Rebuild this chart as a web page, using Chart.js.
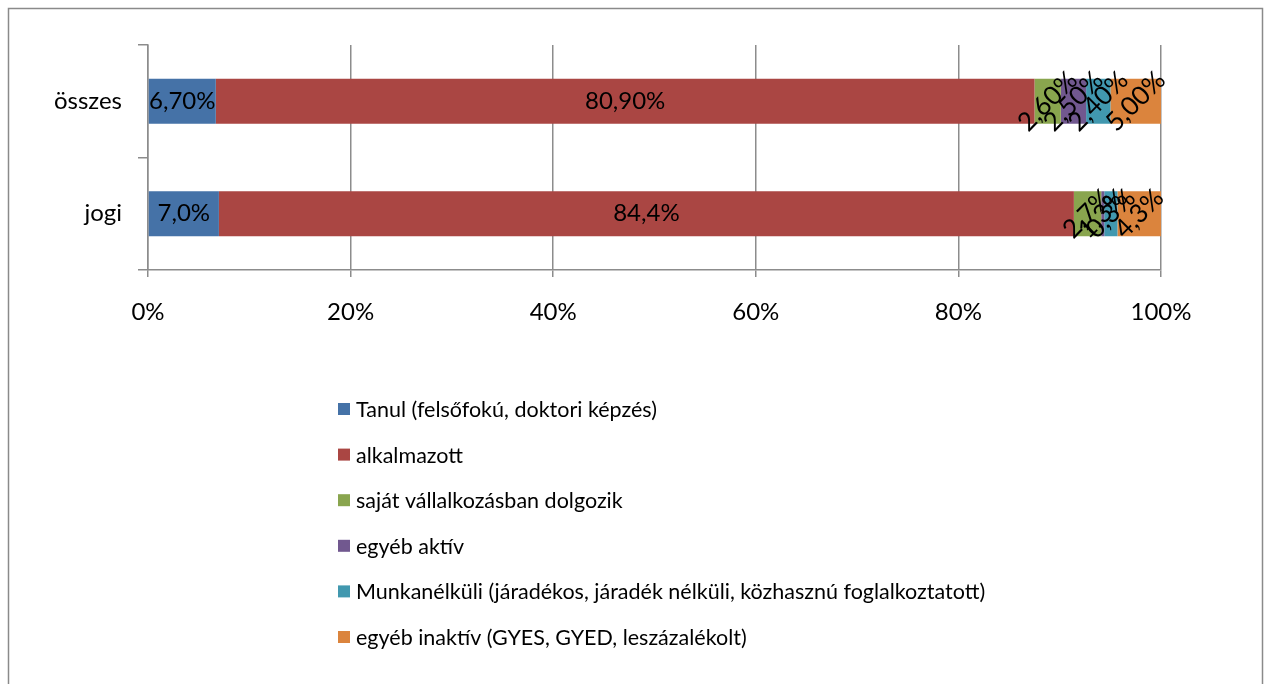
<!DOCTYPE html>
<html>
<head>
<meta charset="utf-8">
<script src="https://cdn.jsdelivr.net/npm/chart.js@4"></script>
<style>
  html, body { margin: 0; padding: 0; background: #fff; }
  #wrap { width: 1265px; height: 684px; }
</style>
</head>
<body>
<div id="wrap"><canvas id="chart" width="1265" height="684"></canvas></div>
<script>
  'use strict';

  // Categories (top to bottom).
  var categories = ['összes', 'jogi'];

  // Series names (legend order).
  var seriesNames = [
    'Tanul (felsőfokú, doktori képzés)',
    'alkalmazott',
    'saját vállalkozásban dolgozik',
    'egyéb aktív',
    'Munkanélküli (járadékos, járadék nélküli, közhasznú foglalkoztatott)',
    'egyéb inaktív (GYES, GYED, leszázalékolt)'
  ];

  // Values per category, in series order.
  var osszesValues = [6.7, 80.9, 2.6, 2.5, 2.4, 5.0];
  var jogiValues = [7.0, 84.4, 2.7, 0.3, 1.3, 4.3];

  // Data label text as printed on the original chart.
  var osszesLabels = ['6,70%', '80,90%', '2,60%', '2,50%', '2,40%', '5,00%'];
  var jogiLabels = ['7,0%', '84,4%', '2,7%', '1,3%', '0,3%', '4,3%'];

  // X axis tick values.
  var xTicks = [0, 20, 40, 60, 80, 100];

  var COLORS = ['#4572A7', '#AA4643', '#89A54E', '#71588F', '#4198AF', '#DB843D'];
  var GRID = '#8c8c8c';
  var FONT = 'Lato, "Open Sans", sans-serif';

  // 100% stacked: normalise each category to its own total.
  function toPercent(values) {
    var total = values.reduce(function (a, b) { return a + b; }, 0);
    return values.map(function (v) { return v / total * 100; });
  }
  var osszesPct = toPercent(osszesValues);
  var jogiPct = toPercent(jogiValues);
  var labelRows = [osszesLabels, jogiLabels];

  var datasets = seriesNames.map(function (name, i) {
    return {
      label: name,
      data: [osszesPct[i], jogiPct[i]],
      backgroundColor: COLORS[i],
      borderWidth: 0,
      categoryPercentage: 1,
      barPercentage: 0.4
    };
  });

  /**
   * Outer frame round the chart.
   */
  var framePlugin = {
    id: 'frame',
    beforeDraw: function (chart) {
      var ctx = chart.ctx;
      ctx.save();
      ctx.strokeStyle = '#8a8a8a';
      ctx.lineWidth = 1.5;
      ctx.strokeRect(8.5, 8.5, 1254, 700);
      ctx.restore();
    }
  };

  /**
   * Data labels: large segments flat, small ones turned 45 degrees.
   */
  var labelPlugin = {
    id: 'segLabels',
    afterDatasetsDraw: function (chart) {
      var ctx = chart.ctx;
      ctx.save();
      ctx.fillStyle = '#000';
      ctx.textAlign = 'center';
      ctx.textBaseline = 'middle';
      chart.data.datasets.forEach(function (ds, di) {
        var meta = chart.getDatasetMeta(di);
        meta.data.forEach(function (bar, ci) {
          var text = labelRows[ci][di];
          var cx = (bar.x + bar.base) / 2;
          var cy = bar.y;
          ctx.save();
          ctx.translate(cx, cy);
          if (di > 1) {
            ctx.font = '26px ' + FONT;
            ctx.rotate(-Math.PI / 4);
          } else {
            ctx.font = '24px ' + FONT;
          }
          ctx.fillText(text, 0, 0);
          ctx.restore();
        });
      });
      ctx.restore();
    }
  };

  /**
   * Vertical legend below the plot, one entry per row.
   */
  var legendPlugin = {
    id: 'vLegend',
    afterDraw: function (chart) {
      var ctx = chart.ctx;
      var x0 = 338;
      var y0 = 409;
      var step = 45.6;
      ctx.save();
      ctx.font = '21.5px ' + FONT;
      ctx.textBaseline = 'middle';
      ctx.textAlign = 'left';
      chart.data.datasets.forEach(function (ds, i) {
        var y = y0 + i * step;
        ctx.fillStyle = ds.backgroundColor;
        ctx.fillRect(x0, y - 6, 12, 12);
        ctx.fillStyle = '#000';
        ctx.fillText(ds.label, x0 + 18, y + 1);
      });
      ctx.restore();
    }
  };

  new Chart(document.getElementById('chart').getContext('2d'), {
    type: 'bar',
    data: { labels: categories, datasets: datasets },
    options: {
      indexAxis: 'y',
      responsive: false,
      animation: false,
      devicePixelRatio: 1,
      layout: { padding: { left: 0, top: 45, right: 104, bottom: 0 } },
      plugins: {
        legend: { display: false },
        tooltip: { enabled: false }
      },
      scales: {
        x: {
          stacked: true,
          min: 0,
          max: 100,
          afterFit: function (scale) { scale.height = 414; },
          afterBuildTicks: function (scale) {
            scale.ticks = xTicks.map(function (v) { return { value: v }; });
          },
          ticks: {
            color: '#000',
            font: { size: 24, family: FONT },
            padding: 21,
            maxRotation: 0,
            callback: function (v) { return v + '%'; }
          },
          grid: { color: GRID, lineWidth: 1.5, tickLength: 7 },
          border: { color: GRID, width: 1.5 }
        },
        y: {
          stacked: true,
          offset: true,
          afterFit: function (scale) { scale.width = 148; },
          ticks: {
            color: '#000',
            font: { size: 24, family: FONT },
            padding: 16
          },
          grid: { drawOnChartArea: false, offset: true, color: GRID, lineWidth: 1.5, tickLength: 10 },
          border: { color: GRID, width: 1.5 }
        }
      }
    },
    plugins: [framePlugin, labelPlugin, legendPlugin]
  });
</script>
</body>
</html>
